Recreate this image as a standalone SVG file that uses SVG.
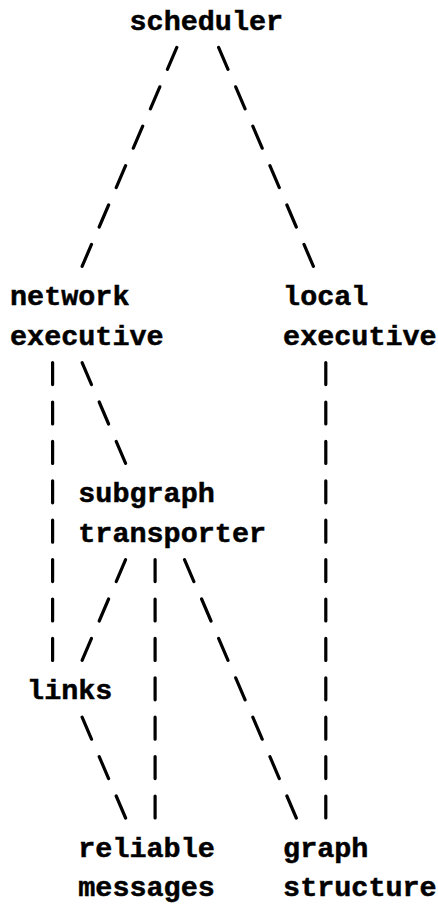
<svg xmlns="http://www.w3.org/2000/svg" width="438" height="906" viewBox="0 0 438 906">
  <style>
    .lbl { font-family: "Liberation Mono", "Courier New", monospace; font-weight: bold; font-size: 28.45px; fill: #000; stroke: #000; stroke-width: 0.5px; }
    .dash { fill: none; stroke: #000; stroke-width: 3.2; stroke-linecap: round; }
  </style>
  <rect width="438" height="906" fill="#fff"/>

  <!-- connectors: one short stroke per text row, laid on a 17.07 x 39.4 character grid -->
  <g id="connectors" class="dash">
    <path id="scheduler-network" d="M176.8 47.4L167.4 69.4M159.8 86.8L150.4 108.8M142.7 126.2L133.3 148.2M125.6 165.6L116.2 187.6M108.6 205L99.2 227M91.5 244.4L82.1 266.4"/>
    <path id="scheduler-local" d="M218.6 47.4L228 69.4M235.7 86.8L245.1 108.8M252.8 126.2L262.2 148.2M269.9 165.6L279.3 187.6M286.9 205L296.3 227M304 244.4L313.4 266.4"/>
    <path id="network-links" d="M52.6 362.6V384.6M52.6 402V424M52.6 441.4V463.4M52.6 480.8V502.8M52.6 520.2V542.2M52.6 559.6V581.6M52.6 599V621M52.6 638.4V660.4"/>
    <path id="network-subgraph" d="M82.1 362.6L91.5 384.6M99.2 402L108.6 424M116.2 441.4L125.6 463.4"/>
    <path id="local-graph" d="M325.8 362.6V384.6M325.8 402V424M325.8 441.4V463.4M325.8 480.8V502.8M325.8 520.2V542.2M325.8 559.6V581.6M325.8 599V621M325.8 638.4V660.4M325.8 677.8V699.8M325.8 717.2V739.2M325.8 756.6V778.6M325.8 796V818"/>
    <path id="subgraph-links" d="M125.6 559.6L116.2 581.6M108.6 599L99.2 621M91.5 638.4L82.1 660.4"/>
    <path id="subgraph-reliable" d="M155.1 559.6V581.6M155.1 599V621M155.1 638.4V660.4M155.1 677.8V699.8M155.1 717.2V739.2M155.1 756.6V778.6M155.1 796V818"/>
    <path id="subgraph-graph" d="M184.5 559.6L193.9 581.6M201.6 599L211 621M218.6 638.4L228 660.4M235.7 677.8L245.1 699.8M252.8 717.2L262.2 739.2M269.9 756.6L279.3 778.6M286.9 796L296.3 818"/>
    <path id="links-reliable" d="M82.1 717.2L91.5 739.2M99.2 756.6L108.6 778.6M116.2 796L125.6 818"/>
  </g>

  <!-- nodes -->
  <g id="scheduler"><text class="lbl" x="129.5" y="29.5">scheduler</text></g>
  <g id="network-executive">
    <text class="lbl" x="10" y="305.3">network</text>
    <text class="lbl" x="10" y="344.7">executive</text>
  </g>
  <g id="local-executive">
    <text class="lbl" x="283.1" y="305.3">local</text>
    <text class="lbl" x="283.1" y="344.7">executive</text>
  </g>
  <g id="subgraph-transporter">
    <text class="lbl" x="78.3" y="502.3">subgraph</text>
    <text class="lbl" x="78.3" y="541.7">transporter</text>
  </g>
  <g id="links"><text class="lbl" x="27.1" y="699.3">links</text></g>
  <g id="reliable-messages">
    <text class="lbl" x="78.3" y="856.9">reliable</text>
    <text class="lbl" x="78.3" y="896.3">messages</text>
  </g>
  <g id="graph-structure">
    <text class="lbl" x="283.1" y="856.9">graph</text>
    <text class="lbl" x="283.1" y="896.3">structure</text>
  </g>
</svg>
